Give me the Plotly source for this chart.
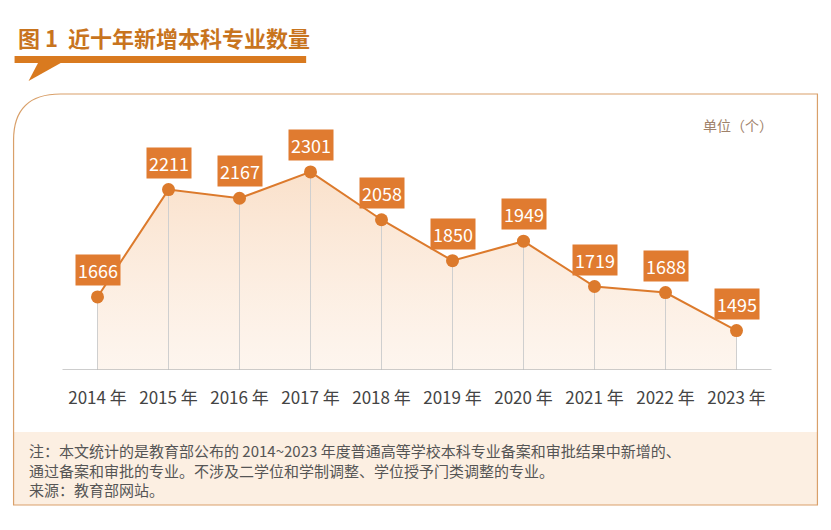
import plotly.graph_objects as go

years = [2014, 2015, 2016, 2017, 2018, 2019, 2020, 2021, 2022, 2023]
counts = [1666, 2211, 2167, 2301, 2058, 1850, 1949, 1719, 1688, 1495]
tick_labels = [f"{y} 年" for y in years]

OFF = 8  # page body margin
W, H = 831 - 2 * OFF, 530 - 2 * OFF
L, T = 61.5 - OFF, 100 - OFF
R = W - (772.5 - OFF)
B = H - (370 - OFF)
BASE = 1295
YMAX = 2666
pw, ph = W - L - R, H - T - B
def px(x): return (x - OFF - L) / pw
def py(y): return (H - B - (y - OFF)) / ph

ORANGE = "#dc7a2c"
fig = go.Figure()
fig.add_trace(go.Scatter(
    x=years, y=counts, mode="lines+markers",
    line=dict(color=ORANGE, width=2),
    marker=dict(size=13, color=ORANGE),
    fill="tozeroy",
    fillgradient=dict(type="vertical",
                      colorscale=[[0, "rgba(255,255,255,0)"], [1, "rgba(246,200,160,0.55)"]]),
    error_y=dict(type="data", symmetric=False, array=[0]*len(counts),
                 arrayminus=[c - BASE for c in counts], color="#cfcfcf", thickness=1, width=0),
    hoverinfo="skip", showlegend=False))

for x, c in zip(years, counts):
    fig.add_annotation(x=x, y=c, text=f"{c}", showarrow=False, yshift=27,
                       bgcolor="#e07b30", borderpad=2, font=dict(color="white", size=18))

shapes = []
shapes.append(dict(type="rect", xref="paper", yref="paper", x0=px(13), x1=px(818), y0=py(505), y1=py(432),
    line=dict(width=0), fillcolor="#fcefe2", layer="below"))
shapes.append(dict(type="path", xref="paper", yref="paper",
    path=f"M {px(13)},{py(505)} L {px(13)},{py(140)} Q {px(13)},{py(94)} {px(60)},{py(94)} "
         f"L {px(818)},{py(94)} L {px(818)},{py(505)} Z",
    line=dict(color="#d9a06a", width=1.2), fillcolor="rgba(0,0,0,0)", layer="below"))
shapes.append(dict(type="rect", xref="paper", yref="paper", x0=px(14), x1=px(306), y0=py(63), y1=py(56),
    line=dict(width=0), fillcolor="#d97a1f"))
shapes.append(dict(type="path", xref="paper", yref="paper",
    path=f"M {px(38)},{py(62)} L {px(62)},{py(62)} L {px(28)},{py(81)} Z",
    line=dict(width=0), fillcolor="#d97a1f"))
shapes.append(dict(type="line", xref="paper", yref="y", x0=px(62), x1=px(772), y0=BASE, y1=BASE,
    line=dict(color="#bdbdbd", width=1.5)))
fig.update_layout(shapes=shapes)

fig.add_annotation(xref="paper", yref="paper", x=px(15), y=py(37), xanchor="left", yanchor="middle",
    text="<b>图 1  近十年新增本科专业数量</b>", showarrow=False, font=dict(size=22, color="#c8741e"))
fig.add_annotation(xref="paper", yref="paper", x=px(776), y=py(125), xanchor="right", yanchor="middle",
    text="单位（个）", showarrow=False, font=dict(size=14, color="#a0826a"))
note = ("注：本文统计的是教育部公布的 2014~2023 年度普通高等学校本科专业备案和审批结果中新增的、<br>"
        "通过备案和审批的专业。不涉及二学位和学制调整、学位授予门类调整的专业。<br>"
        "来源：教育部网站。")
fig.add_annotation(xref="paper", yref="paper", x=px(26), y=py(470), xanchor="left", yanchor="middle",
    text=note, align="left", showarrow=False, font=dict(size=15, color="#555555"))

fig.update_layout(
    width=W, height=H, margin=dict(l=L, r=R, t=T, b=B, autoexpand=False),
    paper_bgcolor="white", plot_bgcolor="rgba(0,0,0,0)",
    font=dict(family="Noto Sans CJK SC"),
    xaxis=dict(range=[2013.5, 2023.5], tickvals=years, ticktext=tick_labels, showgrid=False,
               zeroline=False, showline=False, ticks="", tickfont=dict(size=17, color="#444"), ticklabelstandoff=16),
    yaxis=dict(range=[BASE, YMAX], visible=False, showgrid=False, zeroline=False),
)
fig.write_html("out.html")
